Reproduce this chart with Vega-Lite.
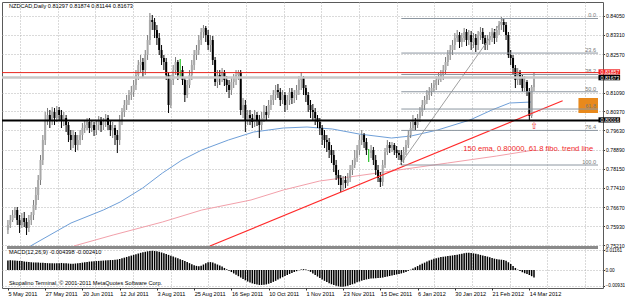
{
"$schema": "https://vega.github.io/schema/vega-lite/v6.json",
"width": 601, "height": 286,
"autosize": {"type": "none"},
"padding": {"left": 2, "top": 2, "right": 22, "bottom": 11},
"background": "white",
"config": {"view": {"stroke": "#5a5a5a", "strokeWidth": 1}, "font": "Liberation Sans",
  "axis": {"labelFont": "Liberation Sans", "labelFontSize": 5.6, "labelColor": "#000000", "tickColor": "#333333", "tickSize": 2, "domain": false, "title": null}},
"datasets": {
"bars": [
{"i":0,"o":0.75791,"h":0.76176,"l":0.75637,"c":0.75983,"m":0.0056},
{"i":1,"o":0.75983,"h":0.76369,"l":0.75868,"c":0.76176,"m":0.0057},
{"i":2,"o":0.76176,"h":0.76562,"l":0.76099,"c":0.76369,"m":0.0056},
{"i":3,"o":0.76369,"h":0.76677,"l":0.76253,"c":0.76562,"m":0.0055},
{"i":4,"o":0.76562,"h":0.76677,"l":0.75983,"c":0.76176,"m":0.0054},
{"i":5,"o":0.76176,"h":0.76369,"l":0.75675,"c":0.75983,"m":0.0053},
{"i":6,"o":0.75983,"h":0.76446,"l":0.75868,"c":0.76253,"m":0.0052},
{"i":7,"o":0.76253,"h":0.76485,"l":0.75906,"c":0.76099,"m":0.0050},
{"i":8,"o":0.76099,"h":0.76253,"l":0.75598,"c":0.75868,"m":0.0048},
{"i":9,"o":0.75868,"h":0.76369,"l":0.75714,"c":0.76176,"m":0.0046},
{"i":10,"o":0.76176,"h":0.76485,"l":0.75983,"c":0.76369,"m":0.0045},
{"i":11,"o":0.76369,"h":0.76947,"l":0.76176,"c":0.76754,"m":0.0044},
{"i":12,"o":0.76754,"h":0.77448,"l":0.76562,"c":0.77140,"m":0.0044},
{"i":13,"o":0.77140,"h":0.77910,"l":0.76947,"c":0.77718,"m":0.0043},
{"i":14,"o":0.77718,"h":0.78681,"l":0.77525,"c":0.78489,"m":0.0042},
{"i":15,"o":0.78489,"h":0.79452,"l":0.78296,"c":0.79259,"m":0.0042},
{"i":16,"o":0.79259,"h":0.80339,"l":0.79067,"c":0.80030,"m":0.0041},
{"i":17,"o":0.80030,"h":0.80493,"l":0.79837,"c":0.80223,"m":0.0040},
{"i":18,"o":0.80223,"h":0.80416,"l":0.79722,"c":0.80030,"m":0.0040},
{"i":19,"o":0.80030,"h":0.80531,"l":0.79837,"c":0.80339,"m":0.0039},
{"i":20,"o":0.80339,"h":0.80493,"l":0.79837,"c":0.80107,"m":0.0039},
{"i":21,"o":0.80107,"h":0.80570,"l":0.79953,"c":0.80416,"m":0.0040},
{"i":22,"o":0.80416,"h":0.80531,"l":0.80030,"c":0.80223,"m":0.0040},
{"i":23,"o":0.80223,"h":0.80416,"l":0.79722,"c":0.80030,"m":0.0041},
{"i":24,"o":0.80030,"h":0.80339,"l":0.79799,"c":0.80107,"m":0.0040},
{"i":25,"o":0.80107,"h":0.80223,"l":0.79568,"c":0.79837,"m":0.0039},
{"i":26,"o":0.79837,"h":0.79953,"l":0.79182,"c":0.79452,"m":0.0038},
{"i":27,"o":0.79452,"h":0.79645,"l":0.78874,"c":0.79259,"m":0.0037},
{"i":28,"o":0.79259,"h":0.79645,"l":0.78951,"c":0.79452,"m":0.0037},
{"i":29,"o":0.79452,"h":0.79568,"l":0.78797,"c":0.79067,"m":0.0038},
{"i":30,"o":0.79067,"h":0.79452,"l":0.78874,"c":0.79259,"m":0.0039},
{"i":31,"o":0.79259,"h":0.79645,"l":0.79067,"c":0.79452,"m":0.0041},
{"i":32,"o":0.79452,"h":0.79915,"l":0.79259,"c":0.79722,"m":0.0043},
{"i":33,"o":0.79722,"h":0.80030,"l":0.79529,"c":0.79837,"m":0.0045},
{"i":34,"o":0.79837,"h":0.80107,"l":0.79645,"c":0.79953,"m":0.0047},
{"i":35,"o":0.79953,"h":0.80107,"l":0.79529,"c":0.79722,"m":0.0049},
{"i":36,"o":0.79722,"h":0.80030,"l":0.79568,"c":0.79837,"m":0.0050},
{"i":37,"o":0.79837,"h":0.79953,"l":0.79414,"c":0.79645,"m":0.0051},
{"i":38,"o":0.79645,"h":0.80030,"l":0.79452,"c":0.79837,"m":0.0052},
{"i":39,"o":0.79837,"h":0.80184,"l":0.79645,"c":0.80030,"m":0.0053},
{"i":40,"o":0.80030,"h":0.80146,"l":0.79568,"c":0.79837,"m":0.0054},
{"i":41,"o":0.79837,"h":0.80107,"l":0.79645,"c":0.79953,"m":0.0055},
{"i":42,"o":0.79953,"h":0.80261,"l":0.79760,"c":0.80107,"m":0.0056},
{"i":43,"o":0.80107,"h":0.80223,"l":0.79645,"c":0.79837,"m":0.0057},
{"i":44,"o":0.79837,"h":0.80030,"l":0.79414,"c":0.79645,"m":0.0058},
{"i":45,"o":0.79645,"h":0.79953,"l":0.79336,"c":0.79722,"m":0.0058},
{"i":46,"o":0.79722,"h":0.79837,"l":0.79067,"c":0.79452,"m":0.0059},
{"i":47,"o":0.79452,"h":0.79645,"l":0.78758,"c":0.79259,"m":0.0061},
{"i":48,"o":0.79259,"h":0.80223,"l":0.79067,"c":0.80030,"m":0.0064},
{"i":49,"o":0.80030,"h":0.80493,"l":0.79837,"c":0.80339,"m":0.0068},
{"i":50,"o":0.80339,"h":0.80801,"l":0.80146,"c":0.80608,"m":0.0072},
{"i":51,"o":0.80608,"h":0.80994,"l":0.80416,"c":0.80801,"m":0.0076},
{"i":52,"o":0.80801,"h":0.81186,"l":0.80608,"c":0.80994,"m":0.0080},
{"i":53,"o":0.80994,"h":0.81341,"l":0.80801,"c":0.81109,"m":0.0084},
{"i":54,"o":0.81109,"h":0.81572,"l":0.80917,"c":0.81379,"m":0.0088},
{"i":55,"o":0.81379,"h":0.81957,"l":0.81186,"c":0.81764,"m":0.0092},
{"i":56,"o":0.81764,"h":0.82343,"l":0.81572,"c":0.82150,"m":0.0096},
{"i":57,"o":0.82150,"h":0.82535,"l":0.81880,"c":0.82266,"m":0.0100},
{"i":58,"o":0.82266,"h":0.82420,"l":0.81649,"c":0.81957,"m":0.0103},
{"i":59,"o":0.81957,"h":0.82728,"l":0.81764,"c":0.82535,"m":0.0106},
{"i":60,"o":0.82535,"h":0.83306,"l":0.82343,"c":0.83113,"m":0.0109},
{"i":61,"o":0.83113,"h":0.84154,"l":0.82921,"c":0.83884,"m":0.0111},
{"i":62,"o":0.83884,"h":0.84077,"l":0.83499,"c":0.83807,"m":0.0112},
{"i":63,"o":0.83807,"h":0.83961,"l":0.83190,"c":0.83499,"m":0.0111},
{"i":64,"o":0.83499,"h":0.83691,"l":0.82921,"c":0.83190,"m":0.0109},
{"i":65,"o":0.83190,"h":0.83383,"l":0.82535,"c":0.82728,"m":0.0106},
{"i":66,"o":0.82728,"h":0.82921,"l":0.82150,"c":0.82420,"m":0.0102},
{"i":67,"o":0.82420,"h":0.82535,"l":0.81957,"c":0.82266,"m":0.0098},
{"i":68,"o":0.82266,"h":0.82420,"l":0.81572,"c":0.81764,"m":0.0093},
{"i":69,"o":0.81764,"h":0.81880,"l":0.80300,"c":0.80608,"m":0.0088},
{"i":70,"o":0.80608,"h":0.81764,"l":0.80493,"c":0.81572,"m":0.0083},
{"i":71,"o":0.81572,"h":0.82150,"l":0.81379,"c":0.81957,"m":0.0078},
{"i":72,"o":0.81957,"h":0.82458,"l":0.81764,"c":0.82266,"m":0.0073},
{"i":73,"o":0.82266,"h":0.82343,"l":0.81572,"c":0.81764,"m":0.0068},
{"i":74,"o":0.81957,"h":0.82381,"l":0.81687,"c":0.81957,"m":0.0063},
{"i":75,"o":0.81957,"h":0.82111,"l":0.81379,"c":0.81572,"m":0.0058},
{"i":76,"o":0.81572,"h":0.81649,"l":0.80724,"c":0.80994,"m":0.0052},
{"i":77,"o":0.80994,"h":0.81572,"l":0.80878,"c":0.81379,"m":0.0046},
{"i":78,"o":0.81379,"h":0.81957,"l":0.81263,"c":0.81764,"m":0.0040},
{"i":79,"o":0.81764,"h":0.82343,"l":0.81572,"c":0.82150,"m":0.0034},
{"i":80,"o":0.82150,"h":0.82728,"l":0.81957,"c":0.82535,"m":0.0028},
{"i":81,"o":0.82535,"h":0.82921,"l":0.82343,"c":0.82728,"m":0.0024},
{"i":82,"o":0.82728,"h":0.83306,"l":0.82535,"c":0.83113,"m":0.0022},
{"i":83,"o":0.83113,"h":0.83576,"l":0.82921,"c":0.83422,"m":0.0025},
{"i":84,"o":0.83422,"h":0.83691,"l":0.83190,"c":0.83576,"m":0.0032},
{"i":85,"o":0.83576,"h":0.83653,"l":0.83036,"c":0.83306,"m":0.0040},
{"i":86,"o":0.83306,"h":0.83499,"l":0.82728,"c":0.82921,"m":0.0045},
{"i":87,"o":0.82921,"h":0.83306,"l":0.82651,"c":0.83113,"m":0.0046},
{"i":88,"o":0.83113,"h":0.83268,"l":0.82150,"c":0.82343,"m":0.0043},
{"i":89,"o":0.82343,"h":0.82458,"l":0.81341,"c":0.81495,"m":0.0038},
{"i":90,"o":0.81495,"h":0.81957,"l":0.81263,"c":0.81764,"m":0.0032},
{"i":91,"o":0.81764,"h":0.81957,"l":0.81379,"c":0.81649,"m":0.0026},
{"i":92,"o":0.81649,"h":0.82034,"l":0.81495,"c":0.81880,"m":0.0020},
{"i":93,"o":0.81880,"h":0.81957,"l":0.81341,"c":0.81572,"m":0.0012},
{"i":94,"o":0.81572,"h":0.81726,"l":0.81109,"c":0.81379,"m":0.0004},
{"i":95,"o":0.81379,"h":0.81572,"l":0.80878,"c":0.81186,"m":-0.0004},
{"i":96,"o":0.81186,"h":0.81649,"l":0.80994,"c":0.81495,"m":-0.0012},
{"i":97,"o":0.81495,"h":0.81803,"l":0.81263,"c":0.81649,"m":-0.0020},
{"i":98,"o":0.81649,"h":0.81957,"l":0.81379,"c":0.81764,"m":-0.0028},
{"i":99,"o":0.81764,"h":0.81957,"l":0.81572,"c":0.81880,"m":-0.0036},
{"i":100,"o":0.81880,"h":0.81957,"l":0.80223,"c":0.80416,"m":-0.0044},
{"i":101,"o":0.80416,"h":0.80878,"l":0.80107,"c":0.80608,"m":-0.0052},
{"i":102,"o":0.80608,"h":0.80801,"l":0.79568,"c":0.80030,"m":-0.0060},
{"i":103,"o":0.80030,"h":0.80416,"l":0.79837,"c":0.80223,"m":-0.0067},
{"i":104,"o":0.80223,"h":0.80416,"l":0.79837,"c":0.80107,"m":-0.0073},
{"i":105,"o":0.80107,"h":0.80261,"l":0.79722,"c":0.79953,"m":-0.0078},
{"i":106,"o":0.79953,"h":0.80416,"l":0.79760,"c":0.80223,"m":-0.0082},
{"i":107,"o":0.80223,"h":0.80339,"l":0.79799,"c":0.80030,"m":-0.0085},
{"i":108,"o":0.80030,"h":0.80223,"l":0.79336,"c":0.79837,"m":-0.0087},
{"i":109,"o":0.79837,"h":0.80339,"l":0.79645,"c":0.80107,"m":-0.0087},
{"i":110,"o":0.80107,"h":0.80608,"l":0.79953,"c":0.80339,"m":-0.0086},
{"i":111,"o":0.80339,"h":0.80570,"l":0.80030,"c":0.80223,"m":-0.0084},
{"i":112,"o":0.80223,"h":0.80801,"l":0.80107,"c":0.80608,"m":-0.0080},
{"i":113,"o":0.80608,"h":0.80994,"l":0.80416,"c":0.80801,"m":-0.0075},
{"i":114,"o":0.80801,"h":0.81186,"l":0.80608,"c":0.80994,"m":-0.0069},
{"i":115,"o":0.80994,"h":0.81379,"l":0.80801,"c":0.81186,"m":-0.0063},
{"i":116,"o":0.81186,"h":0.81418,"l":0.80878,"c":0.81109,"m":-0.0056},
{"i":117,"o":0.81109,"h":0.81263,"l":0.80570,"c":0.80801,"m":-0.0049},
{"i":118,"o":0.80801,"h":0.81186,"l":0.80647,"c":0.80994,"m":-0.0042},
{"i":119,"o":0.80994,"h":0.81109,"l":0.80339,"c":0.80608,"m":-0.0035},
{"i":120,"o":0.80608,"h":0.80994,"l":0.80416,"c":0.80801,"m":-0.0029},
{"i":121,"o":0.80801,"h":0.81263,"l":0.80608,"c":0.81109,"m":-0.0023},
{"i":122,"o":0.81109,"h":0.81263,"l":0.80647,"c":0.80878,"m":-0.0017},
{"i":123,"o":0.80878,"h":0.81186,"l":0.80685,"c":0.80994,"m":-0.0012},
{"i":124,"o":0.80994,"h":0.81379,"l":0.80801,"c":0.81186,"m":-0.0007},
{"i":125,"o":0.81186,"h":0.81726,"l":0.80994,"c":0.81572,"m":-0.0002},
{"i":126,"o":0.81572,"h":0.81880,"l":0.81186,"c":0.81649,"m":0.0003},
{"i":127,"o":0.81649,"h":0.81726,"l":0.80994,"c":0.81263,"m":0.0005},
{"i":128,"o":0.81263,"h":0.81379,"l":0.80724,"c":0.80994,"m":0.0003},
{"i":129,"o":0.80994,"h":0.81109,"l":0.80339,"c":0.80608,"m":-0.0003},
{"i":130,"o":0.80608,"h":0.80801,"l":0.80107,"c":0.80416,"m":-0.0011},
{"i":131,"o":0.80416,"h":0.80647,"l":0.80030,"c":0.80339,"m":-0.0020},
{"i":132,"o":0.80339,"h":0.80493,"l":0.79837,"c":0.80107,"m":-0.0029},
{"i":133,"o":0.80107,"h":0.80223,"l":0.79722,"c":0.79953,"m":-0.0038},
{"i":134,"o":0.79953,"h":0.80107,"l":0.79452,"c":0.79722,"m":-0.0047},
{"i":135,"o":0.79722,"h":0.79837,"l":0.79067,"c":0.79452,"m":-0.0055},
{"i":136,"o":0.79452,"h":0.79645,"l":0.78951,"c":0.79259,"m":-0.0063},
{"i":137,"o":0.79259,"h":0.79452,"l":0.78797,"c":0.79182,"m":-0.0070},
{"i":138,"o":0.79182,"h":0.79336,"l":0.78566,"c":0.78874,"m":-0.0077},
{"i":139,"o":0.78874,"h":0.79067,"l":0.78373,"c":0.78681,"m":-0.0083},
{"i":140,"o":0.78681,"h":0.78874,"l":0.78026,"c":0.78296,"m":-0.0088},
{"i":141,"o":0.78296,"h":0.78489,"l":0.77718,"c":0.77910,"m":-0.0092},
{"i":142,"o":0.77910,"h":0.78103,"l":0.77525,"c":0.77795,"m":-0.0095},
{"i":143,"o":0.77795,"h":0.77910,"l":0.77255,"c":0.77525,"m":-0.0097},
{"i":144,"o":0.77525,"h":0.77872,"l":0.77332,"c":0.77718,"m":-0.0097},
{"i":145,"o":0.77718,"h":0.77872,"l":0.77409,"c":0.77602,"m":-0.0095},
{"i":146,"o":0.77602,"h":0.77988,"l":0.77487,"c":0.77795,"m":-0.0092},
{"i":147,"o":0.77795,"h":0.78296,"l":0.77641,"c":0.78103,"m":-0.0088},
{"i":148,"o":0.78103,"h":0.78489,"l":0.77910,"c":0.78296,"m":-0.0083},
{"i":149,"o":0.78296,"h":0.78874,"l":0.78180,"c":0.78566,"m":-0.0078},
{"i":150,"o":0.78566,"h":0.79067,"l":0.78412,"c":0.78874,"m":-0.0072},
{"i":151,"o":0.78874,"h":0.79452,"l":0.78681,"c":0.79259,"m":-0.0067},
{"i":152,"o":0.79259,"h":0.79645,"l":0.79067,"c":0.79452,"m":-0.0062},
{"i":153,"o":0.79452,"h":0.79529,"l":0.78951,"c":0.79182,"m":-0.0058},
{"i":154,"o":0.79182,"h":0.79336,"l":0.78681,"c":0.78874,"m":-0.0055},
{"i":155,"o":0.78758,"h":0.78913,"l":0.78412,"c":0.78758,"m":-0.0052},
{"i":156,"o":0.78758,"h":0.79067,"l":0.78566,"c":0.78874,"m":-0.0050},
{"i":157,"o":0.78874,"h":0.78990,"l":0.78296,"c":0.78489,"m":-0.0049},
{"i":158,"o":0.78489,"h":0.78681,"l":0.77910,"c":0.78103,"m":-0.0048},
{"i":159,"o":0.78103,"h":0.78296,"l":0.77641,"c":0.77795,"m":-0.0047},
{"i":160,"o":0.77795,"h":0.78026,"l":0.77448,"c":0.77641,"m":-0.0046},
{"i":161,"o":0.77641,"h":0.78489,"l":0.77487,"c":0.78296,"m":-0.0044},
{"i":162,"o":0.78296,"h":0.78951,"l":0.78180,"c":0.78797,"m":-0.0041},
{"i":163,"o":0.78797,"h":0.79259,"l":0.78681,"c":0.79067,"m":-0.0038},
{"i":164,"o":0.79067,"h":0.79182,"l":0.78758,"c":0.78951,"m":-0.0035},
{"i":165,"o":0.78951,"h":0.79182,"l":0.78797,"c":0.79067,"m":-0.0032},
{"i":166,"o":0.79067,"h":0.79144,"l":0.78681,"c":0.78874,"m":-0.0029},
{"i":167,"o":0.78874,"h":0.79028,"l":0.78566,"c":0.78758,"m":-0.0026},
{"i":168,"o":0.78758,"h":0.78874,"l":0.78489,"c":0.78681,"m":-0.0023},
{"i":169,"o":0.78681,"h":0.78874,"l":0.78296,"c":0.78489,"m":-0.0020},
{"i":170,"o":0.78489,"h":0.78990,"l":0.78373,"c":0.78797,"m":-0.0016},
{"i":171,"o":0.78797,"h":0.79259,"l":0.78681,"c":0.79067,"m":-0.0011},
{"i":172,"o":0.79067,"h":0.79645,"l":0.78951,"c":0.79452,"m":-0.0005},
{"i":173,"o":0.79452,"h":0.79953,"l":0.79336,"c":0.79722,"m":0.0002},
{"i":174,"o":0.79722,"h":0.80223,"l":0.79645,"c":0.79953,"m":0.0009},
{"i":175,"o":0.79953,"h":0.80107,"l":0.79645,"c":0.79837,"m":0.0016},
{"i":176,"o":0.79837,"h":0.80261,"l":0.79722,"c":0.80107,"m":0.0023},
{"i":177,"o":0.80107,"h":0.80531,"l":0.79953,"c":0.80339,"m":0.0030},
{"i":178,"o":0.80339,"h":0.80801,"l":0.80184,"c":0.80608,"m":0.0037},
{"i":179,"o":0.80608,"h":0.80955,"l":0.80416,"c":0.80801,"m":0.0043},
{"i":180,"o":0.80801,"h":0.81186,"l":0.80647,"c":0.80994,"m":0.0049},
{"i":181,"o":0.80994,"h":0.81302,"l":0.80801,"c":0.81109,"m":0.0055},
{"i":182,"o":0.81109,"h":0.81456,"l":0.80955,"c":0.81263,"m":0.0060},
{"i":183,"o":0.81263,"h":0.81572,"l":0.81109,"c":0.81379,"m":0.0065},
{"i":184,"o":0.81379,"h":0.81726,"l":0.81186,"c":0.81572,"m":0.0069},
{"i":185,"o":0.81572,"h":0.81842,"l":0.81379,"c":0.81649,"m":0.0072},
{"i":186,"o":0.81649,"h":0.81957,"l":0.81495,"c":0.81764,"m":0.0075},
{"i":187,"o":0.81764,"h":0.82150,"l":0.81572,"c":0.81957,"m":0.0077},
{"i":188,"o":0.81957,"h":0.82458,"l":0.81803,"c":0.82266,"m":0.0079},
{"i":189,"o":0.82266,"h":0.82728,"l":0.82111,"c":0.82535,"m":0.0081},
{"i":190,"o":0.82535,"h":0.82921,"l":0.82343,"c":0.82728,"m":0.0083},
{"i":191,"o":0.82728,"h":0.83113,"l":0.82535,"c":0.82921,"m":0.0085},
{"i":192,"o":0.82921,"h":0.83383,"l":0.82728,"c":0.83190,"m":0.0087},
{"i":193,"o":0.83190,"h":0.83499,"l":0.83036,"c":0.83306,"m":0.0089},
{"i":194,"o":0.83306,"h":0.83422,"l":0.82805,"c":0.83036,"m":0.0092},
{"i":195,"o":0.83036,"h":0.83383,"l":0.82844,"c":0.83190,"m":0.0095},
{"i":196,"o":0.83190,"h":0.83576,"l":0.83036,"c":0.83422,"m":0.0098},
{"i":197,"o":0.83422,"h":0.83537,"l":0.82882,"c":0.83113,"m":0.0100},
{"i":198,"o":0.83113,"h":0.83499,"l":0.82921,"c":0.83306,"m":0.0100},
{"i":199,"o":0.83306,"h":0.83460,"l":0.82728,"c":0.83036,"m":0.0099},
{"i":200,"o":0.83036,"h":0.83383,"l":0.82805,"c":0.83190,"m":0.0097},
{"i":201,"o":0.83190,"h":0.83345,"l":0.82651,"c":0.82921,"m":0.0094},
{"i":202,"o":0.82921,"h":0.83460,"l":0.82728,"c":0.83306,"m":0.0091},
{"i":203,"o":0.83306,"h":0.83614,"l":0.83113,"c":0.83422,"m":0.0088},
{"i":204,"o":0.83422,"h":0.83576,"l":0.82959,"c":0.83190,"m":0.0085},
{"i":205,"o":0.83190,"h":0.83306,"l":0.82728,"c":0.82921,"m":0.0082},
{"i":206,"o":0.82921,"h":0.83306,"l":0.82728,"c":0.83113,"m":0.0078},
{"i":207,"o":0.83113,"h":0.83422,"l":0.82921,"c":0.83268,"m":0.0074},
{"i":208,"o":0.83268,"h":0.83576,"l":0.83036,"c":0.83422,"m":0.0070},
{"i":209,"o":0.83422,"h":0.83537,"l":0.82959,"c":0.83190,"m":0.0066},
{"i":210,"o":0.83190,"h":0.83653,"l":0.83036,"c":0.83499,"m":0.0063},
{"i":211,"o":0.83499,"h":0.83846,"l":0.83306,"c":0.83691,"m":0.0061},
{"i":212,"o":0.83691,"h":0.84000,"l":0.83499,"c":0.83807,"m":0.0060},
{"i":213,"o":0.83807,"h":0.83961,"l":0.83422,"c":0.83691,"m":0.0058},
{"i":214,"o":0.83691,"h":0.83807,"l":0.83113,"c":0.83306,"m":0.0054},
{"i":215,"o":0.83306,"h":0.83422,"l":0.82420,"c":0.82535,"m":0.0045},
{"i":216,"o":0.82535,"h":0.82728,"l":0.82150,"c":0.82420,"m":0.0035},
{"i":217,"o":0.82420,"h":0.82535,"l":0.81764,"c":0.82034,"m":0.0024},
{"i":218,"o":0.82034,"h":0.82150,"l":0.81263,"c":0.81572,"m":0.0012},
{"i":219,"o":0.81572,"h":0.82034,"l":0.81379,"c":0.81880,"m":0.0002},
{"i":220,"o":0.81880,"h":0.81957,"l":0.81379,"c":0.81649,"m":-0.0006},
{"i":221,"o":0.81649,"h":0.81764,"l":0.81109,"c":0.81263,"m":-0.0013},
{"i":222,"o":0.81263,"h":0.81726,"l":0.81109,"c":0.81495,"m":-0.0019},
{"i":223,"o":0.81495,"h":0.81572,"l":0.80955,"c":0.81109,"m":-0.0024},
{"i":224,"o":0.81109,"h":0.81263,"l":0.79992,"c":0.80184,"m":-0.0029},
{"i":225,"o":0.80184,"h":0.81379,"l":0.80107,"c":0.81302,"m":-0.0036},
{"i":226,"o":0.81297,"h":0.81874,"l":0.81144,"c":0.81673,"m":-0.0044}
],
"blue": [
{"i":9.7,"p":0.75174},{"i":27.1,"p":0.76061},{"i":41.0,"p":0.76562},{"i":48.2,"p":0.76870},{"i":57.9,"p":0.77409},{"i":66.4,"p":0.77988},{"i":74.8,"p":0.78489},{"i":83.3,"p":0.78874},{"i":94.7,"p":0.79259},{"i":105.6,"p":0.79568},{"i":118.3,"p":0.79722},{"i":128.5,"p":0.79760},{"i":139.4,"p":0.79683},{"i":150.8,"p":0.79491},{"i":164.8,"p":0.79336},{"i":173.2,"p":0.79414},{"i":184.6,"p":0.79645},{"i":198.5,"p":0.80030},{"i":207.9,"p":0.80416},{"i":215.5,"p":0.80685},{"i":224.9,"p":0.80724}
],
"pink": [
{"i":28.3,"p":0.75174},{"i":45.2,"p":0.75598},{"i":66.4,"p":0.76099},{"i":83.3,"p":0.76562},{"i":104.4,"p":0.76947},{"i":118.3,"p":0.77332},{"i":133.9,"p":0.77679},{"i":146.6,"p":0.77833},{"i":167.7,"p":0.78103},{"i":188.9,"p":0.78373},{"i":210.0,"p":0.78643},{"i":226.1,"p":0.78874}
],
"trend": [{"i":86.8,"p":0.75174},{"i":238.3,"p":0.80774}],
"fibdiag": [{"i":168.3,"p":0.78296},{"i":212.9,"p":0.83942}],
"fib": [
{"lv":"0.0","p":0.83942},{"lv":"23.6","p":0.82610},{"lv":"38.2","p":0.81785},{"lv":"50.0","p":0.81119},{"lv":"61.8","p":0.80453},{"lv":"76.4","p":0.79629},{"lv":"100.0","p":0.78296}
]
},
"resolve": {"scale": {"y": "independent"}, "axis": {"x": "independent", "y": "independent"}},
"layer": [
{
"layer": [
{"data": {"values": [{}]},
 "mark": {"type": "rect", "color": "#e8891c"},
 "encoding": {
  "x": {"datum": 245.1, "type": "quantitative", "scale": {"domain": [-0.4, 253.5], "nice": false, "zero": false},
        "axis": {"orient": "top", "values": [5.2,21.4,37.6,53.7,69.9,86.1,102.3,118.5,134.6,150.8,167,183.2,199.4,215.5,231.7,247.9], "tickCount": 40, "grid": true, "gridColor": "#b4b4b4", "gridDash": [1,2], "labels": false, "ticks": false, "domain": false, "title": null}},
  "x2": {"datum": 253.5},
  "y": {"datum": 0.80878, "type": "quantitative", "scale": {"domain": [0.73556, 0.84578], "nice": false, "zero": false},
        "axis": {"orient": "right", "values": [0.8405,0.8331,0.8257,0.8109,0.8037,0.7963,0.7889,0.7815,0.7741,0.7667,0.7593,0.7521], "tickCount": 40, "grid": true, "gridColor": "#b4b4b4", "gridDash": [1,2], "labelExpr": "format(datum.value, '.5f')", "labelFontSize": 5.2, "tickSize": 1.5, "labelPadding": 1, "labelBaseline": "middle", "labelOverlap": false, "labelBound": false, "title": null}},
  "y2": {"datum": 0.80300}
 }},
{"data": {"name": "pink"}, "mark": {"type": "line", "color": "#f2a0aa", "strokeWidth": 1},
 "encoding": {"x": {"field": "i", "type": "quantitative"}, "y": {"field": "p", "type": "quantitative"}}},
{"data": {"name": "blue"}, "mark": {"type": "line", "color": "#6f9fd8", "strokeWidth": 1},
 "encoding": {"x": {"field": "i", "type": "quantitative"}, "y": {"field": "p", "type": "quantitative"}}},
{"data": {"name": "bars"}, "mark": {"type": "rule", "strokeWidth": 1},
 "encoding": {
  "x": {"field": "i", "type": "quantitative"},
  "y": {"field": "l", "type": "quantitative"},
  "y2": {"field": "h"},
  "color": {"condition": [{"test": "datum.o == datum.c", "value": "#00b400"}, {"test": "datum.c > datum.o", "value": "#7a7a7a"}], "value": "#000000"}
 }},
{"data": {"name": "bars"}, "mark": {"type": "bar", "width": 2},
 "encoding": {
  "x": {"field": "i", "type": "quantitative"},
  "y": {"field": "o", "type": "quantitative"},
  "y2": {"field": "c"},
  "color": {"condition": [{"test": "datum.o == datum.c", "value": "#00b400"}, {"test": "datum.c > datum.o", "value": "#a8a8a8"}], "value": "#000000"}
 }},
{"data": {"name": "trend"}, "mark": {"type": "line", "color": "#ff2a2a", "strokeWidth": 1.1},
 "encoding": {"x": {"field": "i", "type": "quantitative"}, "y": {"field": "p", "type": "quantitative"}}},
{"data": {"name": "fibdiag"}, "mark": {"type": "line", "color": "#a0a0a0", "strokeWidth": 1},
 "encoding": {"x": {"field": "i", "type": "quantitative"}, "y": {"field": "p", "type": "quantitative"}}},
{"data": {"name": "fib"}, "mark": {"type": "rule", "color": "#8c96a0", "strokeWidth": 1},
 "encoding": {"x": {"datum": 169.0, "type": "quantitative"}, "x2": {"datum": 253.5}, "y": {"field": "p", "type": "quantitative"}}},
{"data": {"name": "fib"}, "mark": {"type": "text", "color": "#7a7a7a", "fontSize": 5.6, "font": "Liberation Sans", "align": "right", "baseline": "alphabetic", "dy": -1.2},
 "encoding": {"x": {"datum": 252.7, "type": "quantitative"}, "y": {"field": "p", "type": "quantitative"}, "text": {"field": "lv"}}},
{"data": {"values": [{}]}, "mark": {"type": "rule", "color": "#c8c8c8", "strokeWidth": 2.5},
 "encoding": {"y": {"datum": 0.81673, "type": "quantitative"}}},
{"data": {"values": [{}]}, "mark": {"type": "rule", "color": "#e8261e", "strokeWidth": 1},
 "encoding": {"y": {"datum": 0.81857, "type": "quantitative"}}},
{"data": {"values": [{}]}, "mark": {"type": "rule", "color": "#000000", "strokeWidth": 2},
 "encoding": {"y": {"datum": 0.80016, "type": "quantitative"}}},
{"data": {"values": [{}]}, "mark": {"type": "rect", "color": "#8a8a8a"},
 "encoding": {"x": {"datum": -0.4, "type": "quantitative"}, "x2": {"datum": 253.5}, "y": {"datum": 0.75174, "type": "quantitative"}, "y2": {"datum": 0.75059}}},
{"data": {"values": [{}]}, "mark": {"type": "text", "color": "#000000", "fontSize": 5.6, "font": "Liberation Sans", "align": "left", "baseline": "middle"},
 "encoding": {"x": {"datum": 0.45, "type": "quantitative"}, "y": {"datum": 0.84432, "type": "quantitative"}, "text": {"value": "NZDCAD,Daily  0.81297 0.81874 0.81144 0.81673"}}},
{"data": {"values": [{}]}, "mark": {"type": "text", "color": "#f02828", "fontSize": 7.6, "font": "Liberation Sans", "align": "left", "baseline": "middle"},
 "encoding": {"x": {"datum": 195.6, "type": "quantitative"}, "y": {"datum": 0.78924, "type": "quantitative"}, "text": {"value": "150 ema, 0.80000, 61.8 fibo. trend line"}}},
{"data": {"values": [{}]}, "mark": {"type": "text", "color": "#f02828", "fontSize": 9, "font": "DejaVu Sans", "align": "center", "baseline": "middle"},
 "encoding": {"x": {"datum": 226.1, "type": "quantitative"}, "y": {"datum": 0.7980, "type": "quantitative"}, "text": {"value": "⇧"}}},
{"data": {"values": [{}]}, "mark": {"type": "rect", "color": "#f02020"},
 "encoding": {"x": {"datum": 253.7, "type": "quantitative"}, "x2": {"datum": 263}, "y": {"datum": 0.81984, "type": "quantitative"}, "y2": {"datum": 0.81784}}},
{"data": {"values": [{}]}, "mark": {"type": "rect", "color": "#000000"},
 "encoding": {"x": {"datum": 253.7, "type": "quantitative"}, "x2": {"datum": 263}, "y": {"datum": 0.81772, "type": "quantitative"}, "y2": {"datum": 0.81560}}},
{"data": {"values": [{}]}, "mark": {"type": "rect", "color": "#000000"},
 "encoding": {"x": {"datum": 253.7, "type": "quantitative"}, "x2": {"datum": 263}, "y": {"datum": 0.80134, "type": "quantitative"}, "y2": {"datum": 0.79934}}},
{"data": {"values": [{}]}, "mark": {"type": "text", "color": "#ffffff", "fontSize": 5.2, "font": "Liberation Sans", "align": "left", "baseline": "middle"},
 "encoding": {"x": {"datum": 254.6, "type": "quantitative"}, "y": {"datum": 0.81884, "type": "quantitative"}, "text": {"value": "0.81857"}}},
{"data": {"values": [{}]}, "mark": {"type": "text", "color": "#ffffff", "fontSize": 5.2, "font": "Liberation Sans", "align": "left", "baseline": "middle"},
 "encoding": {"x": {"datum": 254.6, "type": "quantitative"}, "y": {"datum": 0.81668, "type": "quantitative"}, "text": {"value": "0.81673"}}},
{"data": {"values": [{}]}, "mark": {"type": "text", "color": "#ffffff", "fontSize": 5.2, "font": "Liberation Sans", "align": "left", "baseline": "middle"},
 "encoding": {"x": {"datum": 254.6, "type": "quantitative"}, "y": {"datum": 0.80034, "type": "quantitative"}, "text": {"value": "0.80016"}}}
]
},
{
"layer": [
{"data": {"values": [{}]}, "mark": {"type": "text", "color": "#000000", "fontSize": 5.6, "font": "Liberation Sans", "align": "left", "baseline": "middle"},
 "encoding": {"x": {"datum": 0.45, "type": "quantitative"}, "y": {"datum": 0.0103, "type": "quantitative"}, "text": {"value": "MACD(12,26,9) -0.004398 -0.002410"}}},
{"data": {"name": "bars"}, "mark": {"type": "bar", "width": 1.5, "color": "#000000"},
 "encoding": {
  "x": {"field": "i", "type": "quantitative",
        "axis": {"orient": "bottom", "values": [0,16,32,48,64,80,96,112,128,144,160,176,192,208,224], "tickCount": 40, "grid": false, "domain": false, "ticks": true, "tickSize": 2, "labelAlign": "left", "labelBaseline": "top", "labelPadding": 1, "labelFlush": false, "labelOverlap": false,
                 "labelExpr": "['5 May 2011','27 May 2011','20 Jun 2011','12 Jul 2011','3 Aug 2011','25 Aug 2011','16 Sep 2011','10 Oct 2011','1 Nov 2011','23 Nov 2011','15 Dec 2011','6 Jan 2012','30 Jan 2012','21 Feb 2012','14 Mar 2012'][round(datum.value/16)]", "title": null}},
  "y": {"field": "m", "type": "quantitative", "scale": {"domain": [-0.010476, 0.15598], "nice": false, "zero": false},
        "axis": {"orient": "right", "values": [0.01161, 0, -0.00931], "tickCount": 40, "grid": true, "gridColor": "#b4b4b4", "gridDash": [1,2], "labelFontSize": 4.7, "tickSize": 1.5, "labelPadding": 0.5, "labelBaseline": "middle", "labelOverlap": false, "labelBound": false, "labelExpr": "datum.value == 0 ? '0.00' : format(datum.value, '.5f')", "title": null}},
  "y2": {"datum": 0}
 }},
{"data": {"values": [{}]}, "mark": {"type": "text", "color": "#000000", "fontSize": 5.6, "font": "Liberation Sans", "align": "left", "baseline": "middle"},
 "encoding": {"x": {"datum": 0.45, "type": "quantitative"}, "y": {"datum": -0.00757, "type": "quantitative"}, "text": {"value": "Skopalino Terminal, © 2001-2011 MetaQuotes Software Corp."}}}
]
}
]
}
